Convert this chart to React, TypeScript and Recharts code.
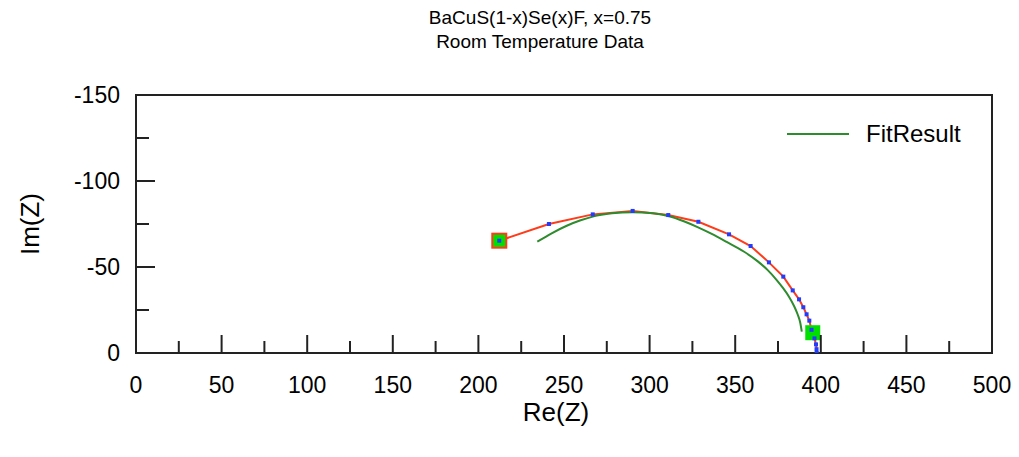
import React from "react";
import { ComposedChart, Scatter, Line, XAxis, YAxis, ReferenceArea } from "recharts";

// measured impedance (red line, blue dots)
const dataRe = [212.2, 241.2, 266.8, 290.1, 310.9, 328.5, 346.4, 359.0, 369.7, 378.1, 383.6, 387.3, 389.8, 391.7, 393.3, 394.6, 396.3, 397.2, 397.5, 397.6];
const dataIm = [-65.3, -75.0, -80.6, -82.6, -80.2, -76.3, -69.0, -62.2, -52.7, -44.4, -36.4, -31.2, -26.6, -22.5, -18.8, -13.5, -8.5, -5.0, -2.2, 0];

// fit curve (green)
const fitRe = [234.4, 242.8, 251.6, 259.3, 266.8, 278, 290, 302, 312, 320, 328, 336, 345, 355, 363, 369, 374, 378, 381.5, 384.3, 386.5, 388, 388.9];
const fitIm = [-64.7, -69.6, -74.0, -77.0, -79.3, -81.2, -81.9, -81.3, -79.4, -76.6, -73.2, -69.4, -64.6, -59.0, -53.4, -48.2, -42.7, -37.7, -32.6, -27.5, -22.4, -17.6, -12.4];

// fit range markers (green squares)
const markRe = [212.2, 395.3];
const markIm = [-65.3, -11.8];

const xTicks = [0, 25, 50, 75, 100, 125, 150, 175, 200, 225, 250, 275, 300, 325, 350, 375, 400, 425, 450, 475, 500];
const yTicks = [-150, -125, -100, -75, -50, -25, 0];

const measured = dataRe.map((re, i) => ({ re, im: dataIm[i] }));
const fit = fitRe.map((re, i) => ({ re, im: fitIm[i] }));
const markers = markRe.map((re, i) => ({ re, im: markIm[i], first: i === 0 }));

const font = "'Liberation Sans', Arial, sans-serif";

const XTick = ({ x, y, payload }: any) => {
  const major = payload.value % 50 === 0;
  return (
    <g>
      <line x1={x} y1={y} x2={x} y2={y - (major ? 18 : 12)} stroke="#222" strokeWidth={2} />
      {major && (
        <text x={x} y={y + 40} textAnchor="middle" fontSize={23} fontFamily={font} fill="#000">
          {payload.value}
        </text>
      )}
    </g>
  );
};

const YTick = ({ x, y, payload }: any) => {
  const major = payload.value % 50 === 0;
  return (
    <g>
      <line x1={x} y1={y} x2={x + (major ? 19 : 13)} y2={y} stroke="#222" strokeWidth={2} />
      {major && (
        <text x={x - 16} y={y + 8} textAnchor="end" fontSize={23} fontFamily={font} fill="#000">
          {payload.value}
        </text>
      )}
    </g>
  );
};

const Dot = ({ cx, cy }: any) => <rect x={cx - 2} y={cy - 2} width={4} height={4} fill="#1f3dff" />;

const Marker = ({ cx, cy, payload }: any) =>
  payload.first ? (
    <rect x={cx - 7} y={cy - 7} width={14} height={14} fill="#00e000" stroke="#ff3b1a" strokeWidth={2} />
  ) : (
    <rect x={cx - 7.5} y={cy - 7.5} width={15} height={15} fill="#00e000" />
  );

export default function App() {
  return (
    <div style={{ position: "relative", width: 1003, height: 441, fontFamily: font, color: "#000" }}>
      <div style={{ position: "absolute", left: 532, top: -2, transform: "translateX(-50%)", whiteSpace: "nowrap", fontSize: 19, lineHeight: "24px", textAlign: "center" }}>
        <div>BaCuS(1-x)Se(x)F, x=0.75</div>
        <div>Room Temperature Data</div>
      </div>
      <div style={{ position: "absolute", left: 548, top: 404, transform: "translate(-50%, -50%)", fontSize: 26, lineHeight: "26px", whiteSpace: "nowrap" }}>
        Re(Z)
      </div>
      <div style={{ position: "absolute", left: 22, top: 216, transform: "translate(-50%, -50%) rotate(-90deg)", fontSize: 26, lineHeight: "26px", whiteSpace: "nowrap" }}>
        Im(Z)
      </div>
      <div style={{ position: "absolute", left: 779, top: 112, height: 28, display: "flex", alignItems: "center", fontSize: 24, whiteSpace: "nowrap" }}>
        <svg width={62} height={4} style={{ marginRight: 17 }}>
          <line x1={0} y1={2} x2={62} y2={2} stroke="#2e8b2e" strokeWidth={2} />
        </svg>
        FitResult
      </div>
      <ComposedChart width={1003} height={441} margin={{ top: 87, right: 19, bottom: 0, left: 0 }}>
        <XAxis
          type="number"
          dataKey="re"
          domain={[0, 500]}
          ticks={xTicks}
          interval={0}
          axisLine={false}
          tickLine={false}
          tickSize={0}
          tickMargin={0}
          tick={<XTick />}
          height={96}
          allowDataOverflow
        />
        <YAxis
          type="number"
          dataKey="im"
          domain={[-150, 0]}
          reversed
          ticks={yTicks}
          interval={0}
          axisLine={false}
          tickLine={false}
          tickSize={0}
          tickMargin={0}
          tick={<YTick />}
          width={128}
          allowDataOverflow
        />
        <ReferenceArea x1={0} x2={500} y1={-150} y2={0} fill="none" stroke="#222" strokeWidth={2} />
        <Scatter data={markers} dataKey="im" shape={<Marker />} isAnimationActive={false} />
        <Line data={measured} dataKey="im" type="linear" stroke="#ff3b1a" strokeWidth={2} dot={false} activeDot={false} isAnimationActive={false} />
        <Line data={fit} dataKey="im" type="monotoneX" stroke="#2e8b2e" strokeWidth={2} dot={false} activeDot={false} isAnimationActive={false} />
        <Scatter data={measured} dataKey="im" shape={<Dot />} isAnimationActive={false} />
      </ComposedChart>
    </div>
  );
}
